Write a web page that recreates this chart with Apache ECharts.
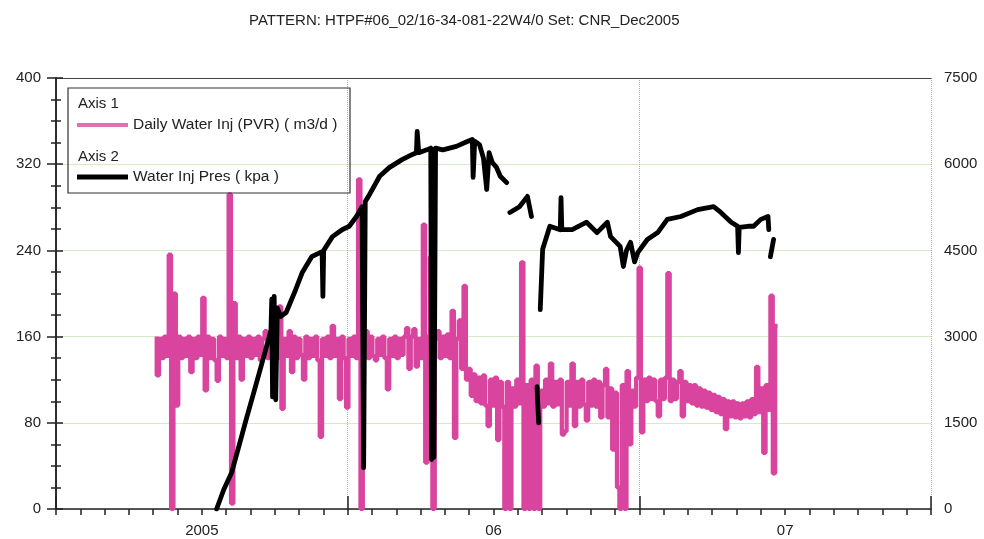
<!DOCTYPE html>
<html>
<head>
    <meta charset="utf-8">
    <script src="https://cdn.jsdelivr.net/npm/echarts@6/dist/echarts.min.js"></script>
    <style>
        html, body { margin: 0; padding: 0; background: #fff; }
        #chart { width: 984px; height: 539px; }
    </style>
</head>
<body>
    <div id="chart"></div>
    <script>
        var TITLE = 'PATTERN: HTPF#06_02/16-34-081-22W4/0 Set: CNR_Dec2005';
        var AXIS_START = '2004-07-01';
        var AXIS_DAYS = 1095; // Jul 2004 .. Jul 2007
        var yearLabels = { 6: '2005', 18: '06', 30: '07' }; // month index -> label

        // Daily Water Inj (PVR) (m3/d), one reading every 3 days from pinkStart
        var pinkName = 'Daily Water Inj (PVR) ( m3/d )';
        var pinkStart = '2004-11-04';
        var pinkStepDays = 3;
        var pinkValues = [
            160, 124, 158, 140, 160, 142, 236, 0, 200, 96,
            160, 140, 158, 142, 160, 127, 158, 140, 160, 143,
            196, 110, 160, 140, 158, 138, 119, 160, 142, 158,
            140, 292, 5, 191, 140, 160, 120, 158, 142, 160,
            140, 158, 143, 160, 138, 158, 165, 140, 160, 142,
            158, 140, 188, 93, 158, 142, 165, 127, 160, 140,
            158, 143, 120, 160, 140, 158, 142, 160, 138, 67,
            158, 142, 160, 140, 170, 142, 158, 102, 160, 140,
            94, 158, 142, 160, 140, 306, 0, 158, 165, 140,
            160, 142, 138, 158, 143, 160, 140, 111, 158, 142,
            160, 140, 158, 143, 160, 168, 130, 160, 167, 132,
            158, 140, 264, 43, 160, 234, 0, 158, 165, 140,
            160, 142, 162, 140, 184, 66, 158, 175, 130, 207,
            120, 130, 105, 125, 100, 122, 98, 124, 96, 77,
            120, 96, 122, 64, 118, 95, 0, 118, 0, 112,
            95, 120, 98, 229, 0, 115, 0, 120, 0, 133,
            0, 110, 95, 120, 98, 135, 95, 118, 97, 120,
            69, 72, 118, 96, 135, 77, 118, 95, 120, 97,
            82, 118, 96, 120, 95, 118, 85, 115, 130, 85,
            112, 55, 108, 20, 0, 115, 0, 128, 60, 110,
            95, 122, 224, 71, 120, 100, 122, 102, 120, 100,
            86, 120, 102, 122, 219, 100, 120, 102, 118, 128,
            86, 118, 100, 115, 98, 115, 96, 112, 95, 110,
            94, 108, 92, 106, 90, 104, 88, 102, 74, 100,
            86, 100, 85, 98, 84, 98, 86, 100, 85, 102,
            88, 132, 90, 112, 52, 115, 92, 198, 33, 170
        ];

        // Water Inj Pres (kpa); null = no reading (gap in line)
        var blackName = 'Water Inj Pres ( kpa )';
        var blackDates = [
            '2005-01-18', '2005-01-27', '2005-02-06', '2005-02-15', '2005-02-24', '2005-03-06',
            '2005-03-16', '2005-03-24', '2005-03-27', '2005-03-28', '2005-03-29', '2005-03-31',
            '2005-04-02', '2005-04-04', '2005-04-08', '2005-04-15', '2005-04-27', '2005-05-05',
            '2005-05-17', '2005-05-30', '2005-05-31', '2005-06-01', '2005-06-12', '2005-06-24',
            '2005-07-03', '2005-07-12', '2005-07-19', '2005-07-21', '2005-07-23', '2005-07-27',
            '2005-08-10', '2005-08-22', '2005-09-07', '2005-09-20', '2005-09-25', '2005-09-26',
            '2005-09-28', '2005-10-08', '2005-10-13', '2005-10-14', '2005-10-16', '2005-10-17',
            '2005-10-19', '2005-10-28', '2005-11-14', '2005-11-27', '2005-12-04', '2005-12-05',
            '2005-12-07', '2005-12-13', '2005-12-18', '2005-12-22', '2005-12-25', '2005-12-29',
            '2006-01-03', '2006-01-08', '2006-01-16', '2006-01-18', '2006-01-20', '2006-02-01',
            '2006-02-11', '2006-02-16', '2006-02-20', '2006-02-23', '2006-02-25', '2006-02-26',
            '2006-02-27', '2006-03-02', '2006-03-11', '2006-03-24', '2006-03-25', '2006-03-26',
            '2006-04-08', '2006-04-26', '2006-05-09', '2006-05-22', '2006-05-26', '2006-06-07',
            '2006-06-11', '2006-06-15', '2006-06-20', '2006-06-25', '2006-06-29', '2006-07-11',
            '2006-07-24', '2006-08-05', '2006-08-22', '2006-09-12', '2006-10-02', '2006-10-11',
            '2006-10-24', '2006-11-01', '2006-11-02', '2006-11-03', '2006-11-14', '2006-11-21',
            '2006-11-30', '2006-12-09', '2006-12-10', '2006-12-11', '2006-12-12', '2006-12-16'
        ];
        var blackValues = [
            0, 340, 640, 1100, 1560, 2050,
            2550, 2950, 3120, 3650, 1950, 3700,
            1900, 3500, 3350, 3420, 3820, 4110,
            4390, 4480, 3700, 4500, 4740, 4860,
            4920, 5090, 5260, 720, 5350, 5440,
            5790, 5940, 6080, 6170, 6200, 6570,
            6200, 6250, 6280, 860, 6250, 900,
            6280, 6250, 6310, 6390, 6430, 5770,
            6400, 6340, 6100, 5560, 6200, 6030,
            5950, 5790, 5680, null, 5160, 5260,
            5440, 5090, null, 2130, 1500, null,
            3470, 4520, 4920, 4860, 5420, 4860,
            4860, 4990, 4810, 4990, 4740, 4570,
            4220, 4500, 4640, 4300, 4460, 4690,
            4810, 5040, 5090, 5210, 5260, 5160,
            4990, 4920, 4460, 4900, 4920, 4920,
            5040, 5090, 4860, null, 4390, 4690
        ];

        function day(d) {
            return (Date.parse(d) - Date.parse(AXIS_START)) / 864e5;
        }

        var pinkData = pinkValues.map(function (v, i) {
            return [day(pinkStart) + i * pinkStepDays, v];
        });
        var blackData = blackDates.map(function (d, i) {
            return [day(d), blackValues[i] == null ? '-' : blackValues[i]];
        });

        var monthStep = AXIS_DAYS / 36;
        var font = 'Liberation Sans';
        var ink = '#222';

        var chart = echarts.init(document.getElementById('chart'));

        var option = {
            animation: false,
            backgroundColor: '#fff',
            title: {
                text: TITLE,
                left: 244,
                top: 8,
                textStyle: { fontFamily: font, fontSize: 15, fontWeight: 'normal', color: ink }
            },
            grid: { left: 56, right: 53, top: 78, bottom: 30 },
            legend: [
                {
                    left: 77, top: 117, padding: 0,
                    itemWidth: 51, itemHeight: 4,
                    textStyle: { fontFamily: font, fontSize: 15.5, color: ink },
                    data: [{ name: pinkName, icon: 'rect', itemStyle: { color: '#e16fb6' } }]
                },
                {
                    left: 77, top: 169, padding: 0,
                    itemWidth: 51, itemHeight: 5,
                    textStyle: { fontFamily: font, fontSize: 15.5, color: ink },
                    data: [{ name: blackName, icon: 'rect', itemStyle: { color: '#000' } }]
                }
            ],
            graphic: [
                {
                    type: 'rect', z: 20,
                    shape: { x: 68, y: 88, width: 282, height: 105 },
                    style: { fill: 'rgba(255,255,255,0)', stroke: '#333', lineWidth: 1.2 }
                },
                {
                    type: 'text', left: 78, top: 96, z: 21,
                    style: { text: 'Axis 1', fontFamily: font, fontSize: 15, fill: ink }
                },
                {
                    type: 'text', left: 78, top: 149, z: 21,
                    style: { text: 'Axis 2', fontFamily: font, fontSize: 15, fill: ink }
                }
            ],
            xAxis: [
                {
                    type: 'value', min: 0, max: AXIS_DAYS, interval: monthStep,
                    axisLine: { lineStyle: { color: ink, width: 1.5 } },
                    axisTick: { length: 6, lineStyle: { color: ink, width: 1.5 } },
                    axisLabel: {
                        margin: 14, fontFamily: font, fontSize: 15, color: ink,
                        showMinLabel: true, showMaxLabel: true,
                        formatter: function (v) {
                            return yearLabels[Math.round(v / monthStep)] || '';
                        }
                    },
                    splitLine: { show: false }
                },
                {
                    type: 'value', min: 0, max: AXIS_DAYS, interval: 365,
                    axisLine: { show: false },
                    axisTick: { length: 13, lineStyle: { color: ink, width: 1.5 } },
                    axisLabel: { show: false },
                    splitLine: { show: true, lineStyle: { color: '#aaa', type: 'dotted', width: 1 } }
                },
                {
                    // frame line along the top of the plot
                    type: 'value', min: 0, max: AXIS_DAYS, position: 'top',
                    axisLine: { show: true, lineStyle: { color: '#444', width: 1.2 } },
                    axisTick: { show: false },
                    axisLabel: { show: false },
                    splitLine: { show: false }
                }
            ],
            yAxis: [
                {
                    type: 'value', min: 0, max: 400, interval: 80,
                    axisLine: { show: true, lineStyle: { color: ink, width: 1.5 } },
                    axisTick: { show: true, length: 9, lineStyle: { color: ink, width: 1.5 } },
                    minorTick: { show: true, splitNumber: 4, length: 5, lineStyle: { color: ink, width: 1.5 } },
                    axisLabel: { margin: 15, fontFamily: font, fontSize: 15, color: ink },
                    splitLine: { show: true, lineStyle: { color: '#d3ebc6', width: 1 } }
                },
                {
                    type: 'value', min: 0, max: 7500, interval: 1500, position: 'right',
                    axisLine: { show: true, lineStyle: { color: ink, width: 1.5 } },
                    axisTick: { show: true, length: 7, lineStyle: { color: ink, width: 1.5 } },
                    minorTick: { show: true, splitNumber: 4, length: 5, lineStyle: { color: ink, width: 1.5 } },
                    axisLabel: {
                        margin: 13, fontFamily: font, fontSize: 15, color: ink,
                        formatter: function (v) { return String(v); }
                    },
                    splitLine: { show: false }
                }
            ],
            series: [
                {
                    name: pinkName, type: 'line', yAxisIndex: 0, step: 'start',
                    showSymbol: false, data: pinkData,
                    lineStyle: { color: '#d8449e', width: 4.2 },
                    itemStyle: { color: '#d8449e' }
                },
                {
                    name: blackName, type: 'line', yAxisIndex: 1,
                    showSymbol: false, connectNulls: false, data: blackData,
                    lineStyle: { color: '#000', width: 4.8, cap: 'round', join: 'round' },
                    itemStyle: { color: '#000' }
                }
            ]
        };

        chart.setOption(option);
    </script>
</body>
</html>
